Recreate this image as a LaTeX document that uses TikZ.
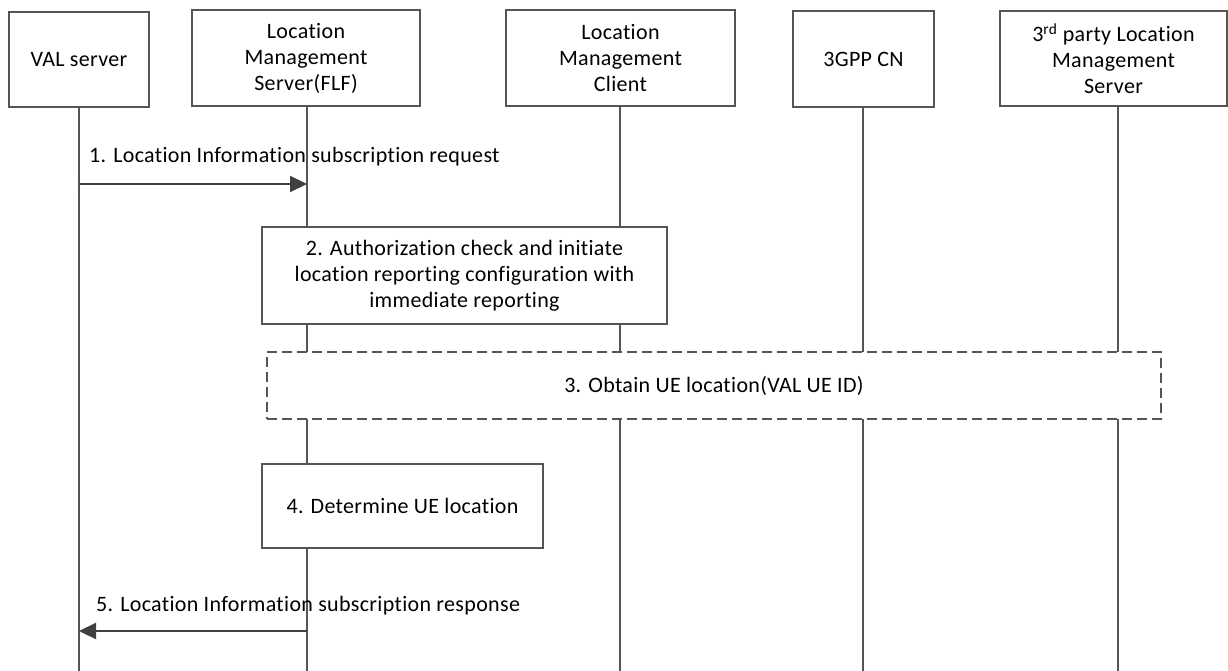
\documentclass[tikz,border=0pt]{standalone}
\usepackage{fontspec}
\setmainfont[Ligatures=NoCommon,LetterSpace=1.5]{Carlito}
\usetikzlibrary{arrows.meta}
\definecolor{ln}{HTML}{555555}
\definecolor{ar}{HTML}{404040}
\tikzset{
  txt/.style={font=\fontsize{22}{26}\selectfont},
  actor/.style={txt, draw=ln, line width=1.2pt, fill=white, align=center, inner sep=0pt},
  life/.style={draw=ln, line width=1.2pt},
  msg/.style={draw=ar, line width=2.2pt, -{Triangle[length=17pt,width=16pt]}},
  lbl/.style={txt, inner sep=0pt, anchor=base west},
  stepbox/.style={txt, draw=ln, line width=1.2pt, fill=white, align=center, inner sep=0pt},
}
\begin{document}
\begin{tikzpicture}[x=1pt,y=-1pt]
\useasboundingbox (0,0) rectangle (1228,671);
% lifeline bottoms
\coordinate (vb) at (79,671);
\coordinate (lb) at (307,671);
\coordinate (cb) at (620,671);
\coordinate (nb) at (863,671);
\coordinate (tb) at (1118,671);
\node[actor, minimum width=140pt, minimum height=95pt] (val) at (79,59.5) {VAL server};
\node[actor, minimum width=228pt, minimum height=96pt] (lms) at (306,58) {Location\\Management\\Server(FLF)};
\node[actor, minimum width=229pt, minimum height=96pt] (lmc) at (620.5,58) {Location\\Management\\Client};
\node[actor, minimum width=141pt, minimum height=96pt] (cn) at (863.5,59) {3GPP CN};
\node[actor, minimum width=227pt, minimum height=95pt] (tp) at (1113.5,58.5) {3\textsuperscript{rd} party Location\\Management\\Server};
\draw[life] (val.south) -- (vb);
\draw[life] (lms.south -| lb) -- (lb);
\draw[life] (lmc.south -| cb) -- (cb);
\draw[life] (cn.south -| nb) -- (nb);
\draw[life] (tp.south -| tb) -- (tb);
% step 1
\coordinate (m1a) at (79,184);
\coordinate (m1b) at (307,184);
\draw[msg] (m1a) -- (m1b);
\node[lbl] (l1) at (89,163) {1. Location Information subscription request};
% step 2
\node[stepbox, minimum width=405pt, minimum height=97pt] (s2) at (464.5,275.5) {2. Authorization check and initiate\\location reporting configuration with\\immediate reporting};
% step 3
\node[stepbox, dashed, dash pattern=on 10pt off 5pt, minimum width=894pt, minimum height=67pt] (s3) at (714,385.5) {3. Obtain UE location(VAL UE ID)};
% step 4
\node[stepbox, minimum width=281pt, minimum height=84pt] (s4) at (402.5,506) {4. Determine UE location};
% step 5
\coordinate (m5a) at (307,631);
\coordinate (m5b) at (79,631);
\draw[msg] (m5a) -- (m5b);
\node[lbl] (l5) at (96,611) {5. Location Information subscription response};
\end{tikzpicture}
\end{document}
